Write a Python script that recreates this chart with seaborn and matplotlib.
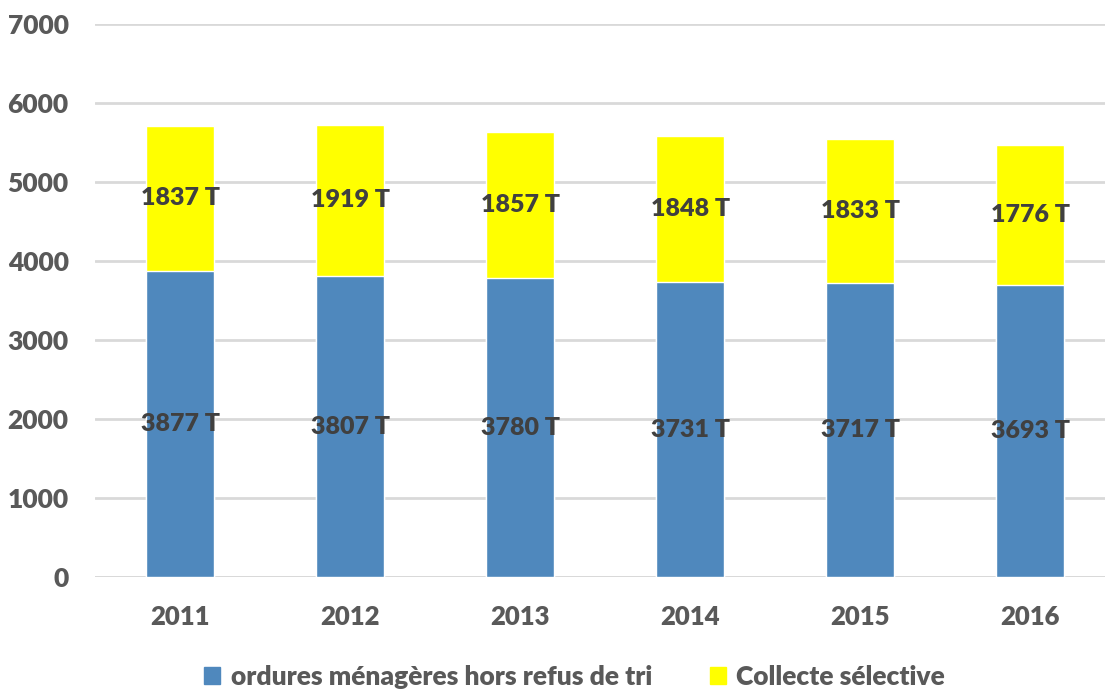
import pandas as pd
import matplotlib.pyplot as plt
import seaborn as sns
from matplotlib.patches import Patch

# data
years = ["2011", "2012", "2013", "2014", "2015", "2016"]
ordures = [3877, 3807, 3780, 3731, 3717, 3693]
collecte = [1837, 1919, 1857, 1848, 1833, 1776]

df = pd.DataFrame({"annee": years, "ordures": ordures, "collecte": collecte})
df["total"] = df["ordures"] + df["collecte"]

sns.set_style("white")
plt.rcParams["font.family"] = ["Lato", "DejaVu Sans"]
W = "heavy"

blue = "#4F88BD"
yellow = "#FFFF00"

fig = plt.figure(figsize=(11.05, 6.91), dpi=100)
ax = fig.add_axes([95 / 1105, 114 / 691, 1010 / 1105, 553 / 691])

# stacked bars: total in yellow, blue drawn on top
sns.barplot(data=df, x="annee", y="total", color=yellow, width=0.4,
            saturation=1, ax=ax, zorder=2)
sns.barplot(data=df, x="annee", y="ordures", color=blue, width=0.4,
            saturation=1, ax=ax, zorder=3)

# value labels
for i, row in df.iterrows():
    ax.text(i, row["ordures"] / 2, f"{row['ordures']} T", ha="center", va="center",
            fontsize=18, fontweight=W, color="#404040", zorder=4)
    ax.text(i, row["ordures"] + row["collecte"] / 2, f"{row['collecte']} T",
            ha="center", va="center", fontsize=18, fontweight=W,
            color="#404040", zorder=4)

ax.set_ylim(0, 7000)
ax.set_xlim(-0.5, 5.44)
ax.set_yticks(range(0, 7001, 1000))
ax.yaxis.grid(True, color="#D9D9D9", linewidth=2, zorder=0)
ax.set_axisbelow(True)
for s in ax.spines.values():
    s.set_visible(False)
ax.axhline(0, color="#D9D9D9", linewidth=2, zorder=1)
ax.set_xlabel("")
ax.set_ylabel("")
ax.tick_params(axis="both", length=0, labelcolor="#595959")
ax.tick_params(axis="y", pad=19, labelsize=19)
ax.tick_params(axis="x", pad=20, labelsize=18.5)
for lbl in ax.get_xticklabels() + ax.get_yticklabels():
    lbl.set_fontweight(W)

handles = [Patch(color=blue, label="ordures ménagères hors refus de tri"),
           Patch(color=yellow, label="Collecte sélective")]
fig.legend(handles=handles, loc="center", bbox_to_anchor=(0.52, 0.02),
           ncol=2, frameon=False, handlelength=0.6, handleheight=0.6,
           handletextpad=0.4, columnspacing=2.2,
           prop={"size": 19, "weight": W}, labelcolor="#595959")

fig.savefig("out.png", dpi=100)
